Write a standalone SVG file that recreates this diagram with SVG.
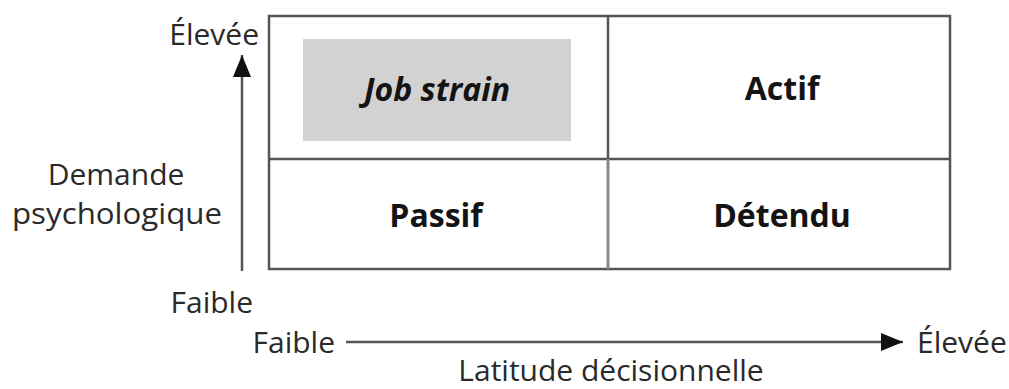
<svg xmlns="http://www.w3.org/2000/svg" width="1009" height="389" viewBox="0 0 1009 389">
<defs>
<style>
.lbl{font-family:"Open Sans","Noto Sans","Liberation Sans",sans-serif;font-size:30px;fill:#2a2a2a}
.q{font-family:"Open Sans","Noto Sans","Liberation Sans",sans-serif;font-size:32px;font-weight:700;fill:#141414;text-anchor:middle}
.cell{fill:none;stroke:#555;stroke-width:2.5}
.ax{stroke:#555;stroke-width:2.5;fill:none}
</style>
<marker id="ah" viewBox="0 0 10 10" refX="10" refY="5" markerUnits="userSpaceOnUse" markerWidth="22" markerHeight="18" preserveAspectRatio="none" orient="auto">
<path d="M0,0 L10,5 L0,10 Z" fill="#111"/>
</marker>
</defs>
<rect width="1009" height="389" fill="#fff"/>
<g id="grid">
<rect class="cell" x="269" y="16" width="681" height="253"/>
<line class="cell" x1="269" y1="159" x2="950" y2="159"/>
<line class="cell" x1="608" y1="16" x2="608" y2="159"/>
<line x1="608" y1="159" x2="608" y2="269" stroke="#8a8a8a" stroke-width="3"/>
</g>
<g id="job-strain">
<rect x="303" y="39" width="268" height="102" fill="#d2d2d2"/>
<text class="q" x="437" y="101" font-style="italic" font-weight="600">Job strain</text>
</g>
<g id="actif"><text class="q" x="782" y="100">Actif</text></g>
<g id="passif"><text class="q" x="436" y="227">Passif</text></g>
<g id="detendu"><text class="q" x="782" y="227">Détendu</text></g>
<g id="y-high"><text class="lbl" x="259" y="45" text-anchor="end">Élevée</text></g>
<g id="y-title"><text class="lbl" x="116" y="185" text-anchor="middle">Demande</text><text class="lbl" x="117" y="224" text-anchor="middle" textLength="210" lengthAdjust="spacingAndGlyphs">psychologique</text></g>
<g id="y-low"><text class="lbl" x="253" y="313" text-anchor="end">Faible</text></g>
<g id="x-low"><text class="lbl" x="335" y="353" text-anchor="end">Faible</text></g>
<g id="x-high"><text class="lbl" x="917" y="353">Élevée</text></g>
<g id="x-title"><text class="lbl" x="611" y="381" text-anchor="middle">Latitude décisionnelle</text></g>
<g id="connectors">
<line class="ax" x1="242" y1="271" x2="242" y2="55" marker-end="url(#ah)"/>
<line class="ax" x1="346" y1="342" x2="903" y2="342" marker-end="url(#ah)"/>
</g>
</svg>
